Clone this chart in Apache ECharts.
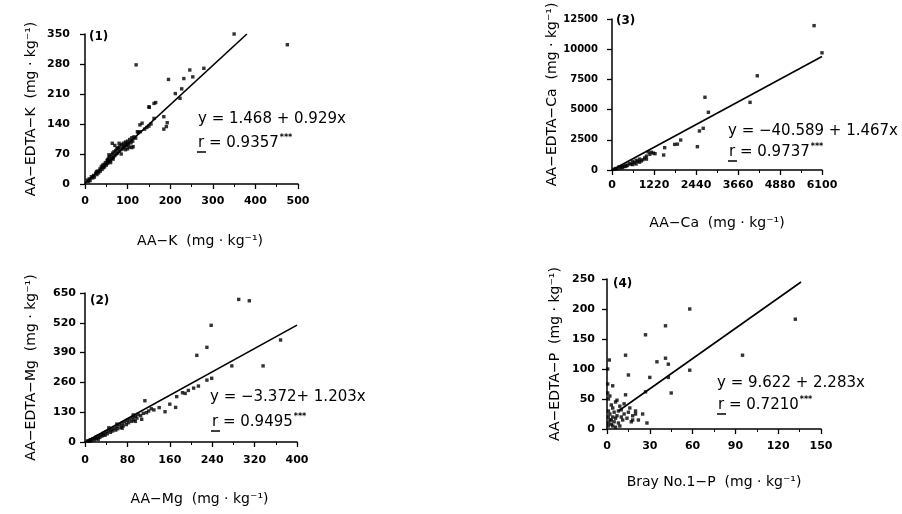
<!DOCTYPE html>
<html><head><meta charset="utf-8">
<script src="https://cdn.jsdelivr.net/npm/echarts@6/dist/echarts.min.js"></script>
<style>html,body{margin:0;padding:0;background:#fff}#c{width:902px;height:514px}</style>
</head><body><div id="c"></div>
<script>
// ---------- DATA ----------
// Panel (1): AA-K vs AA-EDTA-K
const kXTicks = [0, 100, 200, 300, 400, 500];
const kYTicks = [0, 70, 140, 210, 280, 350];
const kPoints = [
  [350,350],[475,325],[120,278],[196,244],[232,246],[246,266],[253,250],[279,270],
  [212,211],[227,222],[223,200],[151,179],[166,190],[162,188],[150,180],[185,157],[193,143],
  [191,134],[185,128],[162,153],[134,142],[123,122],[119,107],[113,87],[99,95],[129,138],
  [5,9],[8,6],[10,12],[12,8],[15,17],[18,14],[20,20],[22,16],[25,25],[27,29],[28,22],[30,30],
  [32,26],[35,35],[36,30],[38,40],[40,34],[41,44],[43,38],[45,46],[46,40],[48,50],[50,44],
  [52,55],[53,48],[55,60],[56,52],[58,64],[60,55],[62,68],[63,60],[65,72],[66,62],[68,75],
  [70,66],[72,78],[73,70],[75,82],[76,72],[78,85],[80,76],[82,88],[84,80],[86,92],[88,82],
  [90,95],[92,86],[95,98],[97,90],[100,100],[102,92],[105,104],[108,96],[110,108],[112,100],
  [115,110],[64,95],[76,83],[56,68],[53,56],[70,90],[80,95],[90,88],[96,92],[104,86],
  [125,120],[130,122],[140,128],[145,132],[150,135],[155,140],[60,50],[66,58],[85,70],
  [95,80],[100,82],[110,85]
];
const kLine = [[0, 1.5], [380, 350]];
const kEq = 'y = 1.468 + 0.929x';
const kR = 'r = 0.9357';

// Panel (3): AA-Ca vs AA-EDTA-Ca
const caXTicks = [0, 1220, 2440, 3660, 4880, 6100];
const caYTicks = [0, 2500, 5000, 7500, 10000, 12500];
const caPoints = [
  [5870,11950],[6100,9700],[4220,7800],[2700,6020],[2800,4780],[4010,5600],[2540,3230],
  [2650,3450],[2480,1930],[1995,2480],[1820,2120],[1900,2140],[1530,1850],[1500,1240],
  [1140,1470],[1050,1500],[850,750],
  [50,50],[100,120],[150,100],[200,250],[250,180],[300,320],[350,280],[400,400],[450,380],
  [500,550],[550,480],[600,700],[650,600],[700,800],[750,720],[800,900],[900,850],
  [950,1000],[1000,1150],[1100,1300],[1200,1400],[700,500],[600,450],[400,300],[300,200],
  [1000,900],[800,650],[1250,1350]
];
const caLine = [[0, 0], [6100, 9400]];
const caEq = 'y = −40.589 + 1.467x';
const caR = 'r = 0.9737';

// Panel (2): AA-Mg vs AA-EDTA-Mg
const mgXTicks = [0, 80, 160, 240, 320, 400];
const mgYTicks = [0, 130, 260, 390, 520, 650];
const mgPoints = [
  [290,622],[310,616],[238,509],[230,413],[211,378],[369,445],[277,332],[336,332],
  [239,278],[230,270],[214,244],[189,212],[173,198],[184,215],[113,180],[151,132],
  [171,151],[116,128],[107,99],[160,165],[140,150],[130,140],[195,225],[205,235],
  [5,5],[8,3],[10,10],[12,6],[15,14],[18,10],[20,20],[22,15],[25,25],[28,20],[30,32],
  [32,26],[35,38],[38,30],[40,45],[42,36],[45,50],[48,42],[50,55],[52,48],[55,60],[58,52],
  [60,68],[62,58],[65,75],[68,64],[70,80],[72,70],[75,88],[78,76],[80,95],[82,84],[85,100],
  [88,90],[90,108],[92,96],[95,112],[98,104],[100,120],[105,115],[110,125],[91,118],
  [60,78],[45,62],[35,30],[25,12],[70,60],[95,90],[120,135],[125,145]
];
const mgLine = [[0, 0], [400, 510]];
const mgEq = 'y = −3.372+ 1.203x';
const mgR = 'r = 0.9495';

// Panel (4): Bray No.1-P vs AA-EDTA-P
const pXTicks = [0, 30, 60, 90, 120, 150];
const pYTicks = [0, 50, 100, 150, 200, 250];
const pPoints = [
  [132,183],[58,200],[95,123],[41,172],[27,157],[13,123],[15,90],[30,86],[35,112],
  [41,118],[43,108],[58,98],[45,60],[27,62],[13,57],[4,72],[1.6,115],[43,86],[20,25],
  [18,15],[28,10],
  [1,5],[1,10],[1,20],[1,30],[2,15],[2,25],[3,8],[3,40],[4,20],[4,35],[5,12],[5,28],
  [6,18],[6,45],[7,48],[7,22],[8,10],[8,30],[9,38],[10,20],[10,32],[11,15],[12,25],
  [12,42],[14,18],[15,28],[16,35],[17,12],[18,22],[20,30],[22,15],[0.5,100],[0.5,60],
  [0.5,75],[1,50],[2,55],[3,15],[4,5],[6,3],[25,25],[9,5]
];
const pLine = [[8, 30], [136, 245]];
const pEq = 'y = 9.622 + 2.283x';
const pR = 'r = 0.7210';

const xNames = ['AA−K  (mg · kg⁻¹)', 'AA−Ca  (mg · kg⁻¹)', 'AA−Mg  (mg · kg⁻¹)', 'Bray No.1−P  (mg · kg⁻¹)'];
const yNames = ['AA−EDTA−K  (mg · kg⁻¹)', 'AA−EDTA−Ca  (mg · kg⁻¹)', 'AA−EDTA−Mg  (mg · kg⁻¹)', 'AA−EDTA−P  (mg · kg⁻¹)'];
const panelTags = ['(1)', '(3)', '(2)', '(4)'];

// ---------- LAYOUT ----------
const F = 'DejaVu Sans';
const panels = [
  {xt: kXTicks, yt: kYTicks, pts: kPoints, line: kLine, eq: kEq, r: kR,
   grid: {left: 85, top: 34, width: 213, height: 150},
   xMargin: 12, yMargin: 15, yFont: 11, xGap: 50, xPad: 17, yGap: 47,
   eqPos: [198, 119], rPos: [198, 143], tagPos: [89, 37]},
  {xt: caXTicks, yt: caYTicks, pts: caPoints, line: caLine, eq: caEq, r: caR,
   grid: {left: 612, top: 19, width: 210, height: 151},
   xMargin: 10, yMargin: 14, yFont: 10, xGap: 46, xPad: 0, yGap: 50,
   eqPos: [728, 131], rPos: [729, 152], tagPos: [616, 21]},
  {xt: mgXTicks, yt: mgYTicks, pts: mgPoints, line: mgLine, eq: mgEq, r: mgR,
   grid: {left: 85, top: 293, width: 212, height: 149},
   xMargin: 13, yMargin: 9, yFont: 11, xGap: 50, xPad: 17, yGap: 47,
   eqPos: [210, 397], rPos: [212, 422], tagPos: [90, 301]},
  {xt: pXTicks, yt: pYTicks, pts: pPoints, line: pLine, eq: pEq, r: pR,
   grid: {left: 607, top: 279, width: 214, height: 150},
   xMargin: 12, yMargin: 12, yFont: 11, xGap: 46, xPad: 0, yGap: 45,
   eqPos: [717, 383], rPos: [718, 405], tagPos: [613, 284]}
];

const plain = v => String(v);
const axisLineStyle = {color: '#000', width: 1.5};
const grids = [], xAxes = [], yAxes = [], series = [], graphic = [];
panels.forEach((p, i) => {
  grids.push(Object.assign({containLabel: false}, p.grid));
  xAxes.push({
    type: 'value', gridIndex: i, min: p.xt[0], max: p.xt[p.xt.length - 1],
    interval: p.xt[1] - p.xt[0],
    name: xNames[i], nameLocation: 'middle', nameGap: p.xGap,
    nameTextStyle: {fontFamily: F, fontSize: 14, color: '#000', padding: [0, 0, 0, p.xPad]},
    axisLine: {show: true, onZero: false, lineStyle: axisLineStyle},
    axisTick: {show: true, length: 5, lineStyle: {color: '#000', width: 1.3}},
    minorTick: {show: true, splitNumber: 2, length: 3, lineStyle: {color: '#000', width: 1}},
    axisLabel: {fontFamily: F, fontWeight: 'bold', fontSize: 11, color: '#000', margin: p.xMargin, formatter: plain},
    splitLine: {show: false}
  });
  yAxes.push({
    type: 'value', gridIndex: i, min: p.yt[0], max: p.yt[p.yt.length - 1],
    interval: p.yt[1] - p.yt[0],
    name: yNames[i], nameLocation: 'middle', nameGap: p.yGap,
    nameTextStyle: {fontFamily: F, fontSize: 14, color: '#000'},
    axisLine: {show: true, onZero: false, lineStyle: axisLineStyle},
    axisTick: {show: true, length: 5, lineStyle: {color: '#000', width: 1.3}},
    axisLabel: {fontFamily: F, fontWeight: 'bold', fontSize: p.yFont, color: '#000', margin: p.yMargin, formatter: plain},
    splitLine: {show: false}
  });
  series.push({
    type: 'scatter', xAxisIndex: i, yAxisIndex: i, data: p.pts,
    symbol: 'rect', symbolSize: 3.4, itemStyle: {color: '#000'}, silent: true
  });
  series.push({
    type: 'line', xAxisIndex: i, yAxisIndex: i, data: p.line,
    showSymbol: false, symbol: 'none', lineStyle: {color: '#000', width: 1.6}, silent: true
  });
  graphic.push({type: 'text', x: p.eqPos[0], y: p.eqPos[1],
    style: {text: p.eq, font: '15px "DejaVu Sans"', fill: '#000', verticalAlign: 'middle'}});
  graphic.push({type: 'text', x: p.rPos[0], y: p.rPos[1],
    style: {text: p.r + '{s|***}', font: '15px "DejaVu Sans"', fill: '#000', verticalAlign: 'middle',
      rich: {s: {fontSize: 8, fontFamily: F, fontWeight: 'bold', verticalAlign: 'top', padding: [0, 0, 10, 1]}}}});
  graphic.push({type: 'line', shape: {x1: p.rPos[0] - 1, y1: p.rPos[1] + 9, x2: p.rPos[0] + 8, y2: p.rPos[1] + 9},
    style: {stroke: '#000', lineWidth: 1.5}});
  graphic.push({type: 'text', x: p.tagPos[0], y: p.tagPos[1],
    style: {text: panelTags[i], font: 'bold 12px "DejaVu Sans"', fill: '#000', verticalAlign: 'middle'}});
});

const chart = echarts.init(document.getElementById('c'));
chart.setOption({
  animation: false,
  backgroundColor: '#fff',
  grid: grids, xAxis: xAxes, yAxis: yAxes, series: series, graphic: graphic
});
</script></body></html>
